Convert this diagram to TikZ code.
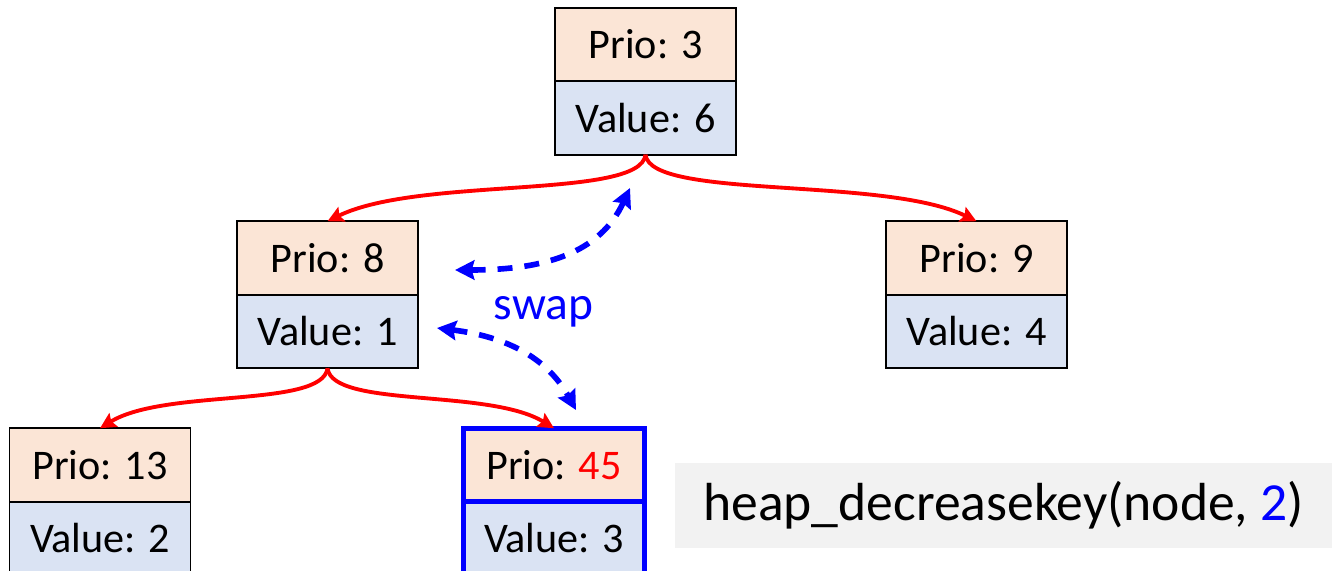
\documentclass[tikz,border=0pt]{standalone}
\usepackage{fontspec}
\setmainfont{Carlito}
\usetikzlibrary{arrows.meta,positioning}
\definecolor{hpPrio}{HTML}{FBE5D6}
\definecolor{hpValue}{HTML}{DAE3F3}
\definecolor{hpCall}{HTML}{F2F2F2}
\definecolor{hpRed}{HTML}{FF0000}
\definecolor{hpBlue}{HTML}{0000FF}
\newcommand{\hpfont}{\fontsize{24}{28}\selectfont}
\tikzset{
  % Upper half of a heap node (priority)
  prbox/.style={rectangle,draw=black,line width=1.1pt,fill=hpPrio,
    minimum width=3.62cm,minimum height=1.47cm,inner sep=0pt,
    outer sep=0pt,font=\hpfont,text=black},
  % Lower half of a heap node (value)
  valbox/.style={prbox,fill=hpValue},
  % Node being changed (thick blue frame)
  hot/.style={draw=hpBlue,line width=2.8pt},
  % Function call box
  callbox/.style={rectangle,fill=hpCall,minimum width=13.14cm,
    minimum height=1.70cm,inner sep=0pt,
    font=\fontsize{30.5}{34}\selectfont,text=black},
  % Arrows
  heapedge/.style={-{Stealth[length=9pt,width=9pt,inset=1.5pt]},
    line width=2.2pt,draw=hpRed},
  swaparr/.style={{Stealth[length=11pt,width=11pt,inset=1.5pt]}-{Stealth[length=11pt,width=11pt,inset=1.5pt]},
    line width=3.2pt,draw=hpBlue,dash pattern=on 0.3cm off 0.24cm},
  lbl/.style={font=\fontsize{27}{30}\selectfont,text=hpBlue},
}
\begin{document}
\begin{tikzpicture}
  \useasboundingbox (0,0) rectangle (26.64,11.4);

  % heap nodes
  \node[prbox] (p3) at (12.91,10.51) {Prio: 3};
  \node[valbox,below=0pt of p3] (v6) {Value: 6};

  \node[prbox] (p8) at (6.55,6.24) {Prio: 8};
  \node[valbox,below=0pt of p8] (v1) {Value: 1};

  \node[prbox] (p9) at (19.53,6.24) {Prio: 9};
  \node[valbox,below=0pt of p9] (v4) {Value: 4};

  \node[prbox] (p13) at (2.0,2.10) {Prio: 13};
  \node[valbox,below=0pt of p13] (v2) {Value: 2};

  \node[prbox,hot] (p45) at (11.08,2.10) {Prio: \textcolor{hpRed}{45}};
  \node[valbox,hot,below=0pt of p45] (v3) {Value: 3};

  \node[callbox] (call) at (20.07,1.29)
    {heap\_decreasekey(node, \textcolor{hpBlue}{2})};

  % tree edges
  \draw[heapedge] (v6.south) .. controls +(-0.1,-0.9) and +(1.84,0.9) .. (p8.north);
  \draw[heapedge] (v6.south) .. controls +(0.1,-0.9) and +(-1.84,0.9) .. (p9.north);
  \draw[heapedge] (v1.south) .. controls +(-0.1,-0.8) and +(1.3,0.8) .. (p13.north);
  \draw[heapedge] (v1.south) .. controls +(0.1,-0.8) and +(-1.3,0.8) .. (p45.north);

  % swap
  \node[lbl,anchor=base] (swap) at (10.87,5.0) {swap};
  \coordinate (sw1a) at (9.10,6.00);
  \coordinate (sw1b) at (12.60,7.64);
  \coordinate (sw2a) at (8.74,4.84);
  \coordinate (sw2b) at (11.52,3.20);
  \draw[swaparr] (sw1a) .. controls +(1.8,0) and +(-0.6,-1.3) .. (sw1b);
  \draw[swaparr] (sw2a) .. controls +(1.6,-0.2) and +(-0.5,0.9) .. (sw2b);
\end{tikzpicture}
\end{document}
